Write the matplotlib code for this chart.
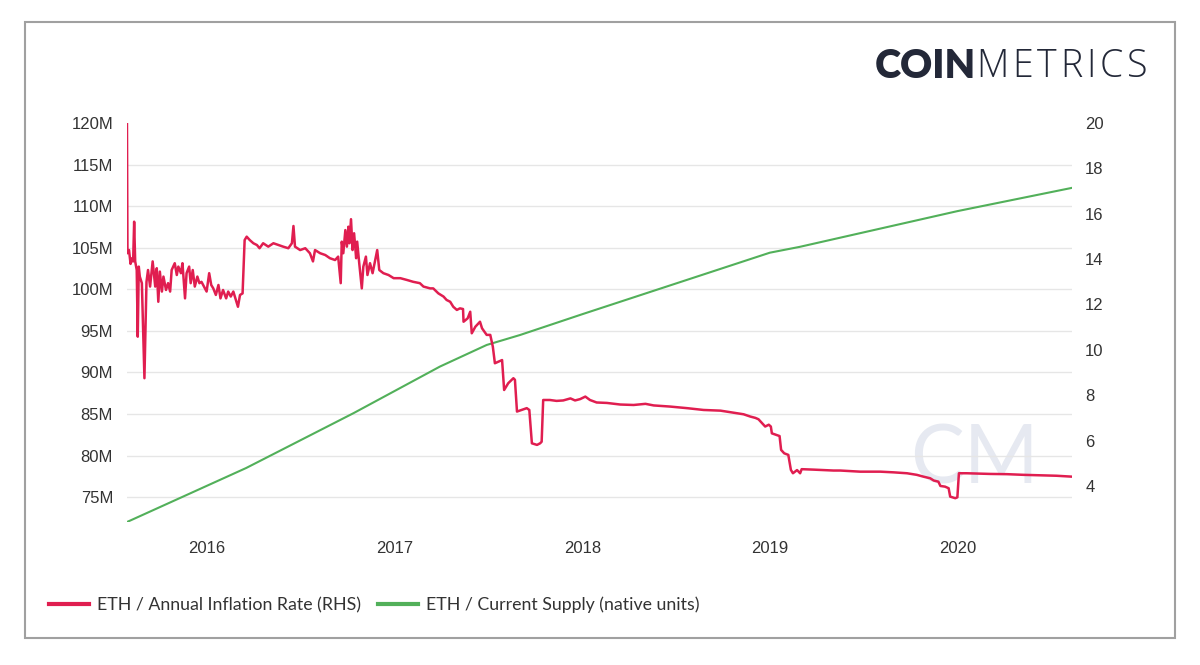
import pandas as pd
import matplotlib
matplotlib.use("Agg")
import matplotlib.pyplot as plt
import matplotlib.ticker as mticker
import matplotlib.dates as mdates
from matplotlib.patches import Rectangle

# ── Data ────────────────────────────────────────────────────────────────────
GENESIS = pd.Timestamp("2015-07-30")
END_DATE = pd.Timestamp("2020-08-11")

# ETH current supply, millions of ETH (left axis)
supply_dates = ["2015-07-30", "2016-03-18", "2016-10-13", "2017-03-30",
                "2017-06-29", "2017-09-02", "2018-01-01", "2019-01-01",
                "2019-02-28", "2020-01-01", "2020-08-11"]
supply_m = [72.0, 78.5, 85.1, 90.7, 93.3, 94.5, 97.0, 104.4, 105.1, 109.4, 112.2]

# ETH annual inflation rate, % (right axis); x = days since genesis
infl_day = [
    0, 1, 4, 7, 10, 12, 14, 16, 19, 21, 23, 25, 29, 34, 38, 41, 45, 50, 55, 58,
    61, 64, 68, 71, 76, 80, 84, 87, 93, 97, 100, 105, 108, 113, 116, 121, 124,
    128, 132, 137, 141, 145, 150, 155, 160, 164, 168, 173, 178, 182, 187, 193,
    197, 202, 207, 212, 216, 220, 225, 229, 233, 239, 246, 253, 258, 265, 275,
    285, 295, 304, 314, 321, 324, 327, 337, 347, 356, 362, 366, 376, 386, 395,
    405, 411, 416, 418, 421, 425, 428, 431, 433, 436, 439, 442, 446, 448, 452,
    457, 460, 465, 468, 473, 478, 483, 487, 491, 499, 509, 519, 532, 545, 557,
    570, 577, 590, 596, 606, 616, 622, 629, 635, 642, 648, 654, 655, 663, 668,
    671, 678, 687, 691, 700, 707, 712, 716, 723, 730, 734, 742, 752, 755, 759,
    768, 778, 783, 788, 798, 804, 807, 810, 823, 836, 849, 863, 872, 882, 892,
    901, 914, 934, 960, 986, 1009, 1025, 1057, 1090, 1122, 1155, 1180, 1200,
    1213, 1223, 1229, 1236, 1242, 1249, 1253, 1255, 1264, 1270, 1273, 1279,
    1287, 1292, 1296, 1304, 1310, 1313, 1336, 1375, 1388, 1427, 1466, 1492,
    1518, 1537, 1550, 1563, 1570, 1579, 1583, 1592, 1599, 1602, 1612, 1616,
    1619, 1634, 1680, 1712, 1745, 1777, 1809, 1839,
]
infl_pct = [
    19.96, 14.26, 14.40, 13.79, 14.04, 13.90, 15.65, 13.90, 13.52, 10.58,
    13.67, 13.23, 12.94, 8.75, 13.00, 13.52, 12.79, 13.90, 12.79, 13.60,
    12.12, 13.45, 12.57, 13.23, 12.64, 12.94, 12.57, 13.52, 13.82, 13.30,
    13.67, 13.38, 13.82, 12.27, 13.38, 13.67, 12.94, 13.52, 12.79, 13.23,
    12.94, 13.00, 12.79, 12.57, 13.38, 12.86, 12.71, 12.42, 12.86, 12.27,
    12.64, 12.27, 12.57, 12.35, 12.57, 12.20, 11.90, 12.42, 12.49, 14.84,
    14.99, 14.84, 14.70, 14.62, 14.48, 14.70, 14.55, 14.70, 14.62, 14.55,
    14.48, 14.70, 15.46, 14.55, 14.40, 14.48, 14.26, 13.90, 14.40, 14.26,
    14.18, 14.04, 13.96, 14.11, 12.94, 14.77, 14.26, 15.28, 14.55, 15.43,
    14.70, 15.76, 14.40, 15.14, 14.04, 14.77, 13.82, 12.71, 13.67, 14.11,
    13.30, 13.82, 13.38, 13.96, 14.40, 13.52, 13.38, 13.30, 13.16, 13.16,
    13.08, 13.00, 12.94, 12.79, 12.71, 12.71, 12.49, 12.35, 12.20, 12.12,
    11.90, 11.76, 11.83, 11.80, 11.24, 11.39, 11.68, 10.73, 11.02, 11.24,
    10.95, 10.66, 10.66, 10.14, 9.41, 9.48, 9.55, 8.23, 8.53, 8.75,
    8.68, 7.28, 7.35, 7.43, 7.35, 5.88, 5.81, 5.88, 5.95, 7.79,
    7.79, 7.75, 7.77, 7.86, 7.77, 7.83, 7.94, 7.79, 7.68, 7.66,
    7.59, 7.57, 7.62, 7.55, 7.50, 7.43, 7.35, 7.32, 7.23, 7.16,
    7.06, 7.00, 6.94, 6.77, 6.62, 6.70, 6.62, 6.32, 6.25, 6.20,
    5.59, 5.44, 5.37, 4.71, 4.56, 4.70, 4.56, 4.74, 4.72, 4.68,
    4.68, 4.63, 4.63, 4.60, 4.56, 4.49, 4.41, 4.34, 4.24, 4.19,
    4.00, 3.97, 3.90, 3.53, 3.46, 3.50, 4.56, 4.56, 4.53, 4.52,
    4.49, 4.47, 4.45, 4.41,
]

left_ticks = [75, 80, 85, 90, 95, 100, 105, 110, 115, 120]
right_ticks = [4, 6, 8, 10, 12, 14, 16, 18, 20]

RED = "#e01e50"
GREEN = "#52b05a"
TXT = "#333333"
NAVY = "#232838"

# ── Figure ──────────────────────────────────────────────────────────────────
fig = plt.figure(figsize=(12, 6.65), dpi=100)
fig.patch.set_facecolor("white")
ax = fig.add_axes([0.1058, 0.215, 0.7875, 0.6])
ax2 = ax.twinx()

s_dates = pd.to_datetime(supply_dates)
i_dates = GENESIS + pd.to_timedelta(infl_day, unit="D")

l_sup, = ax.plot(s_dates, supply_m, color=GREEN, lw=1.5, zorder=3)
l_inf, = ax2.plot(i_dates, infl_pct, color=RED, lw=1.8, zorder=3)

ax.set_xlim(GENESIS, END_DATE)
ax.set_ylim(72.0, 120)
ax2.set_ylim(2.41, 20)

ax.set_yticks(left_ticks)
ax.yaxis.set_major_formatter(mticker.FuncFormatter(lambda v, p: f"{v:.0f}M"))
ax2.set_yticks(right_ticks)
ax.xaxis.set_major_locator(mdates.YearLocator())
ax.xaxis.set_major_formatter(mdates.DateFormatter("%Y"))

for a in (ax, ax2):
    for sp in a.spines.values():
        sp.set_visible(False)
    a.tick_params(length=0, labelsize=12, colors=TXT)
    for lbl in a.get_xticklabels() + a.get_yticklabels():
        lbl.set_fontfamily("Liberation Sans")
ax.tick_params(axis="y", pad=10)
ax2.tick_params(axis="y", pad=9.5)
ax.tick_params(axis="x", pad=14)

ax.yaxis.grid(True, color="#e6e6e6", lw=1)
ax.set_axisbelow(True)
ax.get_ygridlines()[-1].set_visible(False)

# faint watermark
ax.text(0.897, 0.155, "CM", transform=ax.transAxes, fontsize=58,
        family="Lato", fontweight="normal", color="#e6e9f1",
        ha="center", va="center", zorder=0)

# legend
leg = fig.legend([l_inf, l_sup],
                 ["ETH / Annual Inflation Rate (RHS)", "ETH / Current Supply (native units)"],
                 loc="center left", bbox_to_anchor=(0.0408, 0.090), ncol=2,
                 frameon=False, borderpad=0, borderaxespad=0,
                 handlelength=2.25, handletextpad=0.45, columnspacing=0.95,
                 prop={"family": "Lato", "size": 12.8})
for t in leg.get_texts():
    t.set_color(TXT)
for h in leg.legend_handles:
    h.set_linewidth(3)

# logo: bold "COIN" + light, slightly tracked "METRICS"
fig.canvas.draw()
r = fig.canvas.get_renderer()
W = fig.bbox.width
x = 0.729
t = fig.text(x, 0.9, "COIN", family="Lato", fontweight="heavy",
             fontsize=28.5, color=NAVY, ha="left", va="center")
x = t.get_window_extent(r).x1 / W + 0.0003
for ch in "METRICS":
    t = fig.text(x, 0.9, ch, family="Open Sans", fontweight="light",
                 fontsize=27, color=NAVY, ha="left", va="center")
    x = t.get_window_extent(r).x1 / W + 0.0032

# outer frame
fig.add_artist(Rectangle((0.0208, 0.0406), 0.958, 0.9263, transform=fig.transFigure,
                         fill=False, ec="#a0a0a0", lw=1.5))

fig.savefig("out.png", dpi=100)
